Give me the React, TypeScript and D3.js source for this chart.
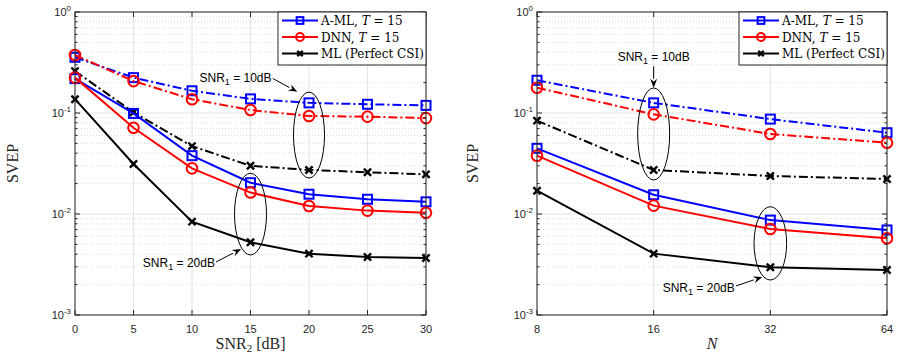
import React from "react";
import * as d3 from "d3";

const snrValues = [0, 5, 10, 15, 20, 25, 30];
const nValues = [8, 16, 32, 64];

// Left panel (x = SNR2)
const amlSnr10 = [0.356, 0.224, 0.166, 0.138, 0.126, 0.122, 0.119];
const dnnSnr10 = [0.375, 0.207, 0.137, 0.107, 0.0935, 0.092, 0.089];
const mlSnr10 = [0.26, 0.1016, 0.047, 0.03, 0.0273, 0.0259, 0.0247];
const amlSnr20 = [0.219, 0.099, 0.0378, 0.0204, 0.0157, 0.014, 0.0132];
const dnnSnr20 = [0.224, 0.0715, 0.0283, 0.0163, 0.012, 0.0108, 0.0103];
const mlSnr20 = [0.137, 0.0313, 0.0084, 0.00525, 0.00405, 0.00375, 0.00367];

// Right panel (x = N)
const amlN10 = [0.211, 0.126, 0.087, 0.0638];
const dnnN10 = [0.178, 0.097, 0.062, 0.0508];
const mlN10 = [0.084, 0.0273, 0.0238, 0.0222];
const amlN20 = [0.0447, 0.0155, 0.0087, 0.00695];
const dnnN20 = [0.0378, 0.0121, 0.0071, 0.00575];
const mlN20 = [0.017, 0.00405, 0.00297, 0.00279];

const legendLabels = ["A-ML", "DNN", "ML (Perfect CSI)"];
const yDecades = [1e-3, 1e-2, 1e-1, 1];
const yExponents = ["-3", "-2", "-1", "0"];

const BLUE = "#0000ff";
const RED = "#ff0000";
const BLACK = "#000000";
const DASHDOT = "9,3,2,3";
const SERIF = "Liberation Serif, Times New Roman, serif";
const LEGEND_SERIF = "DejaVu Serif, serif";
const SANS = "Liberation Sans, Arial, sans-serif";

type Marker = "square" | "circle" | "x";

function MarkerShape({ type, x, y, color, scale = 1 }: { type: Marker; x: number; y: number; color: string; scale?: number }) {
  if (type === "square") {
    const h = 4.5 * scale;
    return <rect x={x - h} y={y - h} width={2 * h} height={2 * h} fill="none" stroke={color} strokeWidth={2} />;
  }
  if (type === "circle") return <circle cx={x} cy={y} r={5.3 * scale} fill="none" stroke={color} strokeWidth={2} />;
  const s = 3.6 * scale;
  return (
    <g stroke={color} strokeWidth={2.4}>
      <line x1={x - s} y1={y - s} x2={x + s} y2={y + s} />
      <line x1={x - s} y1={y + s} x2={x + s} y2={y - s} />
    </g>
  );
}

interface Series {
  values: number[];
  color: string;
  marker: Marker;
  dash?: string;
}

interface Annotation {
  ex: number;
  eTop: number;
  eBot: number;
  erx: number;
  text: string;
  tx: number;
  ty: number;
  anchor: "start" | "middle" | "end";
  ax1: number;
  ay1: number;
  ax2: number;
  ay2: number;
}

function Panel({
  left,
  right,
  xs,
  xDomainValues,
  xTicks,
  series,
  annotations,
  xLabel,
  yLabelX,
  idp,
}: {
  left: number;
  right: number;
  xs: (v: number) => number;
  xDomainValues: number[];
  xTicks: number[];
  series: Series[];
  annotations: Annotation[];
  xLabel: React.ReactNode;
  yLabelX: number;
  idp: string;
}) {
  const top = 12;
  const bottom = 315;
  const y = d3.scaleLog().domain([1e-3, 1]).range([bottom, top]);
  const minor: number[] = [];
  for (const dcd of [1e-3, 1e-2, 1e-1]) for (let k = 2; k <= 9; k++) minor.push(dcd * k);
  const axisColor = "#262626";
  const line = d3
    .line<number>()
    .x((_, i) => xs(xDomainValues[i]))
    .y((v) => y(v));

  const legW = 148;
  const legX = right - legW;
  const legRows = [
    { color: BLUE, marker: "square" as Marker },
    { color: RED, marker: "circle" as Marker },
    { color: BLACK, marker: "x" as Marker },
  ];

  return (
    <g>
      <rect x={left} y={top} width={right - left} height={bottom - top} fill="#fff" />
      {minor.map((m) => (
        <line key={"mg" + m} x1={left} x2={right} y1={y(m)} y2={y(m)} stroke="#cfcfcf" strokeWidth={0.7} strokeDasharray="1,2" />
      ))}
      {yDecades.map((m) => (
        <line key={"g" + m} x1={left} x2={right} y1={y(m)} y2={y(m)} stroke="#e3e3e3" strokeWidth={1} />
      ))}
      {xTicks.map((t) => (
        <line key={"gx" + t} x1={xs(t)} x2={xs(t)} y1={top} y2={bottom} stroke="#e3e3e3" strokeWidth={1} />
      ))}
      {series.map((s, i) => (
        <g key={idp + "s" + i}>
          <path d={line(s.values) || ""} fill="none" stroke={s.color} strokeWidth={2} strokeDasharray={s.dash} />
          {s.values.map((v, j) => (
            <MarkerShape key={j} type={s.marker} x={xs(xDomainValues[j])} y={y(v)} color={s.color} />
          ))}
        </g>
      ))}
      {annotations.map((a, i) => {
        const cy = (y(a.eTop) + y(a.eBot)) / 2;
        const ry = (y(a.eBot) - y(a.eTop)) / 2;
        const x1 = xs(a.ax1),
          y1 = y(a.ay1),
          x2 = xs(a.ax2),
          y2 = y(a.ay2);
        const ang = Math.atan2(y2 - y1, x2 - x1);
        const hl = 9,
          hw = 3.5;
        const bx = x2 - hl * Math.cos(ang),
          by = y2 - hl * Math.sin(ang);
        const px = -Math.sin(ang) * hw,
          py = Math.cos(ang) * hw;
        return (
          <g key={idp + "a" + i}>
            <ellipse cx={xs(a.ex)} cy={cy} rx={a.erx} ry={ry} fill="none" stroke="#000" strokeWidth={1} />
            <line x1={x1} y1={y1} x2={bx} y2={by} stroke="#000" strokeWidth={1} />
            <path d={`M${x2},${y2}L${bx + px},${by + py}L${bx + 0.35 * (x2 - bx)},${by + 0.35 * (y2 - by)}L${bx - px},${by - py}Z`} fill="#000" />
            <text x={xs(a.tx)} y={y(a.ty)} textAnchor={a.anchor} dominantBaseline="middle" fontFamily={SANS} fontSize={12} fill="#000">
              SNR
              <tspan fontSize={9} dy={4}>1</tspan>
              <tspan dy={-4}>{a.text}</tspan>
            </text>
          </g>
        );
      })}
      <rect x={left} y={top} width={right - left} height={bottom - top} fill="none" stroke={axisColor} strokeWidth={1} />
      {yDecades.map((m) => (
        <g key={"t" + m} stroke={axisColor}>
          <line x1={left} x2={left + 5} y1={y(m)} y2={y(m)} />
          <line x1={right} x2={right - 5} y1={y(m)} y2={y(m)} />
        </g>
      ))}
      {minor.map((m) => (
        <g key={"mt" + m} stroke={axisColor}>
          <line x1={left} x2={left + 2.5} y1={y(m)} y2={y(m)} />
          <line x1={right} x2={right - 2.5} y1={y(m)} y2={y(m)} />
        </g>
      ))}
      {xTicks.map((t) => (
        <g key={"xt" + t} stroke={axisColor}>
          <line x1={xs(t)} x2={xs(t)} y1={bottom} y2={bottom - 5} />
          <line x1={xs(t)} x2={xs(t)} y1={top} y2={top + 5} />
        </g>
      ))}
      {yDecades.map((m, i) => (
        <text key={"yl" + m} x={left - 4} y={y(m) + 4} textAnchor="end" fontFamily={SANS} fontSize={11} fill="#262626">
          10
          <tspan fontSize={8} dy={-5}>
            {yExponents[i]}
          </tspan>
        </text>
      ))}
      {xTicks.map((t) => (
        <text key={"xl" + t} x={xs(t)} y={bottom + 18} textAnchor="middle" fontFamily={SANS} fontSize={11} fill="#262626">
          {t}
        </text>
      ))}
      <text transform={`translate(${yLabelX},${(top + bottom) / 2}) rotate(-90)`} textAnchor="middle" fontFamily={SERIF} fontSize={16} fill="#262626">
        SVEP
      </text>
      <text x={(left + right) / 2} y={349} textAnchor="middle" fontFamily={SERIF} fontSize={16} fill="#262626">
        {xLabel}
      </text>
      <rect x={legX} y={top} width={legW} height={53} fill="#fff" stroke={axisColor} strokeWidth={1} />
      {legRows.map((r, i) => {
        const ly = top + 8.5 + i * 16.5;
        return (
          <g key={idp + "l" + i}>
            <line x1={legX + 4} x2={legX + 40} y1={ly} y2={ly} stroke={r.color} strokeWidth={2} />
            <MarkerShape type={r.marker} x={legX + 22} y={ly} color={r.color} scale={0.75} />
            <text x={legX + 43} y={ly + 4.5} fontFamily={LEGEND_SERIF} fontSize={12} fill="#000">
              {legendLabels[i]}
              {i < 2 ? (
                <>
                  {", "}
                  <tspan fontStyle="italic">T</tspan>
                  {" = 15"}
                </>
              ) : null}
            </text>
          </g>
        );
      })}
    </g>
  );
}

export default function App() {
  const xl = d3.scaleLinear().domain([0, 30]).range([75, 426]);
  const xr = d3.scaleLog().base(2).domain([8, 64]).range([537, 887]);

  const leftSeries: Series[] = [
    { values: amlSnr10, color: BLUE, marker: "square", dash: DASHDOT },
    { values: dnnSnr10, color: RED, marker: "circle", dash: DASHDOT },
    { values: mlSnr10, color: BLACK, marker: "x", dash: DASHDOT },
    { values: amlSnr20, color: BLUE, marker: "square" },
    { values: dnnSnr20, color: RED, marker: "circle" },
    { values: mlSnr20, color: BLACK, marker: "x" },
  ];
  const rightSeries: Series[] = [
    { values: amlN10, color: BLUE, marker: "square", dash: DASHDOT },
    { values: dnnN10, color: RED, marker: "circle", dash: DASHDOT },
    { values: mlN10, color: BLACK, marker: "x", dash: DASHDOT },
    { values: amlN20, color: BLUE, marker: "square" },
    { values: dnnN20, color: RED, marker: "circle" },
    { values: mlN20, color: BLACK, marker: "x" },
  ];

  const leftAnn: Annotation[] = [
    { ex: 20, eTop: 0.161, eBot: 0.0227, erx: 15.5, text: " = 10dB", tx: 16.8, ty: 0.217, anchor: "end", ax1: 16.9, ay1: 0.22, ax2: 19.0, ay2: 0.162 },
    { ex: 15, eTop: 0.0253, eBot: 0.00393, erx: 16, text: " = 20dB", tx: 11.96, ty: 0.0032, anchor: "end", ax1: 12.05, ay1: 0.00335, ax2: 14.2, ay2: 0.0045 },
  ];
  const rightAnn: Annotation[] = [
    { ex: 16, eTop: 0.177, eBot: 0.0217, erx: 16, text: " = 10dB", tx: 16, ty: 0.35, anchor: "middle", ax1: 16, ay1: 0.29, ax2: 16, ay2: 0.178 },
    { ex: 32, eTop: 0.0118, eBot: 0.00222, erx: 16.3, text: " = 20dB", tx: 25.9, ty: 0.0018, anchor: "end", ax1: 26.1, ay1: 0.00194, ax2: 30.5, ay2: 0.00238 },
  ];

  return (
    <svg width={900} height={355} style={{ position: "absolute", left: 0, top: 0, display: "block", background: "#fff" }}>
      <rect width={900} height={355} fill="#fff" />
      <Panel
        left={75}
        right={426}
        xs={(v) => xl(v)}
        xDomainValues={snrValues}
        xTicks={snrValues}
        series={leftSeries}
        annotations={leftAnn}
        xLabel={
          <>
            SNR<tspan fontSize={11} dy={3}>2</tspan>
            <tspan dy={-3}> [dB]</tspan>
          </>
        }
        yLabelX={18}
        idp="L"
      />
      <Panel
        left={537}
        right={887}
        xs={(v) => xr(v)}
        xDomainValues={nValues}
        xTicks={nValues}
        series={rightSeries}
        annotations={rightAnn}
        xLabel={<tspan fontStyle="italic">N</tspan>}
        yLabelX={478}
        idp="R"
      />
    </svg>
  );
}
